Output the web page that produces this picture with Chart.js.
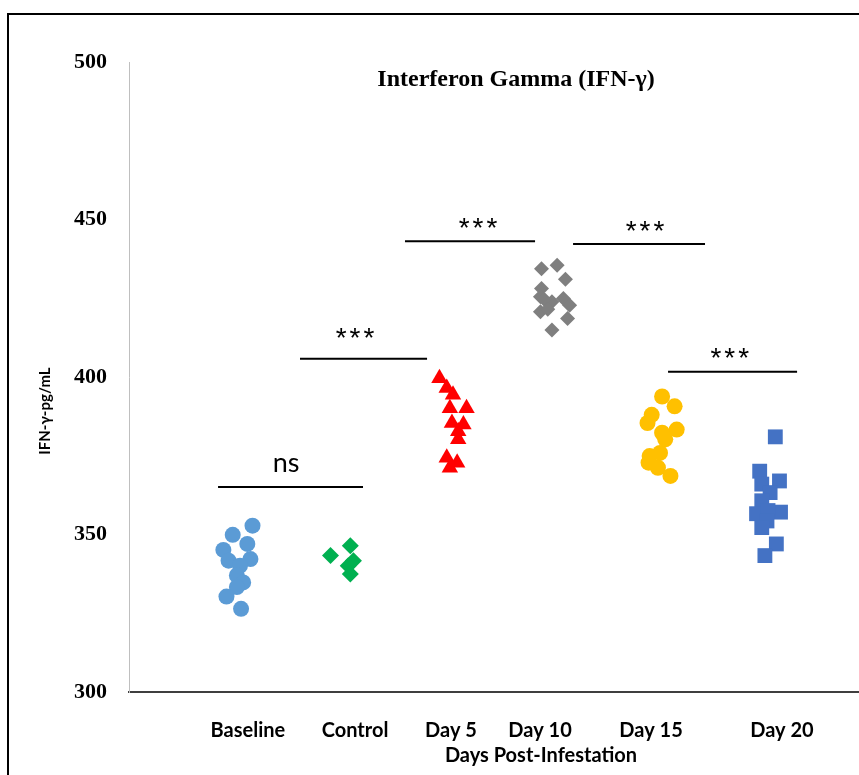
<!DOCTYPE html>
<html>
<head>
<meta charset="utf-8">
<script src="https://cdn.jsdelivr.net/npm/chart.js@4.4.1/dist/chart.umd.min.js"></script>
<style>
  html, body { margin: 0; padding: 0; background: #fff; }
  #wrap { position: relative; width: 859px; height: 775px; overflow: hidden; }
  #frame { position: absolute; left: 7px; top: 13px; width: 870px; height: 790px;
           border-left: 2px solid #000; border-top: 2px solid #000; box-sizing: border-box; pointer-events: none; }
  canvas { position: absolute; left: 0; top: 0; }
</style>
</head>
<body>
<div id="wrap">
  <canvas id="c" width="859" height="775"></canvas>
  <div id="frame"></div>
</div>
<script>
// Groups along the x axis (slot positions on a 0..7 linear scale)
const groups     = ['Baseline', 'Control', 'Day 5', 'Day 10', 'Day 15', 'Day 20'];
const groupSlot  = [1.056, 2.055, 3.101, 4.071, 5.109, 6.136];
const labelSlot  = [1.142, 2.170, 3.092, 3.947, 5.013, 6.270];
const yTicks     = [300, 350, 400, 450, 500];

// IFN-γ concentrations (pg/mL) per group, with horizontal spread within each group
const baseline       = [352.8, 349.9, 347.0, 345.1, 342.2, 341.7, 340.1, 337.0, 334.8, 333.3, 330.3, 326.4];
const baselineSpread = [0.13, -0.06, 0.08, -0.15, 0.11, -0.10, 0.01, -0.02, 0.04, -0.02, -0.12, 0.02];

const control        = [346.4, 343.3, 341.7, 340.1, 337.5];
const controlSpread  = [0.07, -0.12, 0.10, 0.05, 0.07];

const day5           = [399.6, 396.5, 394.4, 390.1, 390.1, 385.4, 384.9, 382.8, 380.2, 374.4, 372.8, 371.2];
const day5Spread     = [-0.12, -0.05, 0.01, 0.14, -0.02, 0.00, 0.11, 0.06, 0.06, -0.05, 0.05, -0.02];

const day10          = [434.4, 435.5, 431.0, 428.1, 425.5, 424.9, 423.9, 422.8, 420.7, 418.6, 414.9, 424.5, 421.5];
const day10Spread    = [-0.11, 0.04, 0.12, -0.11, -0.12, 0.10, -0.01, 0.16, -0.12, 0.14, -0.01, -0.08, -0.05];

const day15          = [393.8, 390.7, 388.0, 385.4, 383.3, 382.3, 380.2, 374.9, 375.9, 372.8, 371.2, 368.6];
const day15Spread    = [0.01, 0.13, -0.09, -0.13, 0.15, 0.01, 0.04, -0.11, -0.01, -0.12, -0.03, 0.09];

const day20          = [381.0, 370.1, 367.0, 366.0, 363.3, 360.7, 356.6, 357.1, 357.6, 354.3, 352.2, 347.0, 343.3];
const day20Spread    = [0.07, -0.08, 0.11, -0.06, 0.02, -0.06, -0.11, 0.12, 0.00, -0.01, -0.06, 0.08, -0.03];

// Significance brackets: from / to (x slots), level (pg/mL), label and where the label sits
const sigFrom    = [0.855, 1.642, 2.650, 4.264, 5.176];
const sigTo      = [2.247, 2.862, 3.899, 5.531, 6.415];
const sigLevel   = [365.1, 405.8, 443.1, 442.2, 401.7];
const sigText    = ['ns', '***', '***', '***', '***'];
const sigLabelAt = [1.508, 2.170, 3.351, 4.955, 5.769];

const titleText  = 'Interferon Gamma (IFN-\u03b3)';
const yTitleText = 'IFN-\u03b3-pg/mL';
const xTitleText = 'Days Post-Infestation';

function points(values, spread, slot) {
  return values.map((v, i) => ({ x: slot + spread[i], y: v }));
}

const seriesDefs = [
  { label: groups[0], values: baseline, spread: baselineSpread, color: '#5B9BD5', style: 'circle',   radius: 8 },
  { label: groups[1], values: control,  spread: controlSpread,  color: '#00B050', style: 'rectRot',  radius: 8.5 },
  { label: groups[2], values: day5,     spread: day5Spread,     color: '#FF0000', style: 'triangle', radius: 9.5 },
  { label: groups[3], values: day10,    spread: day10Spread,    color: '#7F7F7F', style: 'rectRot',  radius: 7.5 },
  { label: groups[4], values: day15,    spread: day15Spread,    color: '#FFC000', style: 'circle',   radius: 8 },
  { label: groups[5], values: day20,    spread: day20Spread,    color: '#4472C4', style: 'rect',     radius: 10.5 }
];

const datasets = [];
sigFrom.forEach((f, i) => {
  datasets.push({
    type: 'line',
    label: 'sig' + i,
    data: [{ x: f, y: sigLevel[i] }, { x: sigTo[i], y: sigLevel[i] }],
    borderColor: '#000',
    borderWidth: 2,
    pointRadius: 0,
    fill: false
  });
});
seriesDefs.forEach((s, i) => {
  datasets.push({
    type: 'scatter',
    label: s.label,
    data: points(s.values, s.spread, groupSlot[i]),
    backgroundColor: s.color,
    borderColor: s.color,
    borderWidth: 0,
    pointStyle: s.style,
    pointRadius: s.radius,
    pointHoverRadius: s.radius
  });
});

// Title, axis captions and bracket labels (label gap above each bracket, px)
const sigLabelGap = [24, 19, 12, 12, 12];
const annotations = {
  id: 'annotations',
  afterDatasetsDraw(chart) {
    const { ctx, scales: { x, y } } = chart;
    ctx.save();
    ctx.fillStyle = '#000';
    ctx.textAlign = 'center';
    ctx.textBaseline = 'middle';
    ctx.font = 'bold 24px "Liberation Serif"';
    ctx.fillText(titleText, 516, 80);

    ctx.font = 'bold 20px Lato';
    ctx.fillText(xTitleText, 541, 756);

    sigText.forEach((t, i) => {
      const cx = x.getPixelForValue(sigLabelAt[i]);
      const cy = y.getPixelForValue(sigLevel[i]) - sigLabelGap[i];
      if (t === 'ns') {
        ctx.font = '27px Lato';
        ctx.letterSpacing = '0px';
        ctx.fillText(t, cx, cy);
      } else {
        ctx.font = '28px "Liberation Sans"';
        ctx.letterSpacing = '3px';
        ctx.fillText(t, cx + 1.5, cy);
      }
    });
    ctx.letterSpacing = '0px';

    ctx.translate(45, 411);
    ctx.rotate(-Math.PI / 2);
    ctx.font = 'bold 15px Lato';
    ctx.fillText(yTitleText, 0, 0);
    ctx.restore();
  }
};

new Chart(document.getElementById('c'), {
  data: { datasets },
  options: {
    responsive: false,
    animation: false,
    layout: { autoPadding: false, padding: { left: 35, top: 62, right: 1, bottom: 0 } },
    plugins: { legend: { display: false }, tooltip: { enabled: false }, title: { display: false } },
    scales: {
      x: {
        type: 'linear',
        min: 0,
        max: 7,
        afterFit: s => { s.height = 83; s.paddingLeft = 0; s.paddingRight = 0; },
        afterBuildTicks: s => { s.ticks = labelSlot.map(v => ({ value: v })); },
        grid: { display: false, drawTicks: false },
        border: { display: true, color: '#3f3f3f', width: 2 },
        ticks: {
          autoSkip: false,
          maxRotation: 0,
          padding: 27,
          color: '#000',
          font: { family: 'Lato', weight: 'bold', size: 20 },
          callback: (v) => { const i = labelSlot.indexOf(v); return i >= 0 ? groups[i] : ''; }
        }
      },
      y: {
        min: 300,
        max: 500,
        afterFit: s => { s.width = 94; s.paddingTop = 0; s.paddingBottom = 0; },
        afterBuildTicks: s => { s.ticks = yTicks.map(v => ({ value: v })); },
        grid: { display: false, drawTicks: false },
        border: { display: true, color: '#bfbfbf', width: 1 },
        ticks: {
          padding: 22,
          color: '#000',
          font: { family: 'Liberation Serif', weight: 'bold', size: 22 }
        }
      }
    }
  },
  plugins: [annotations]
});
</script>
</body>
</html>
